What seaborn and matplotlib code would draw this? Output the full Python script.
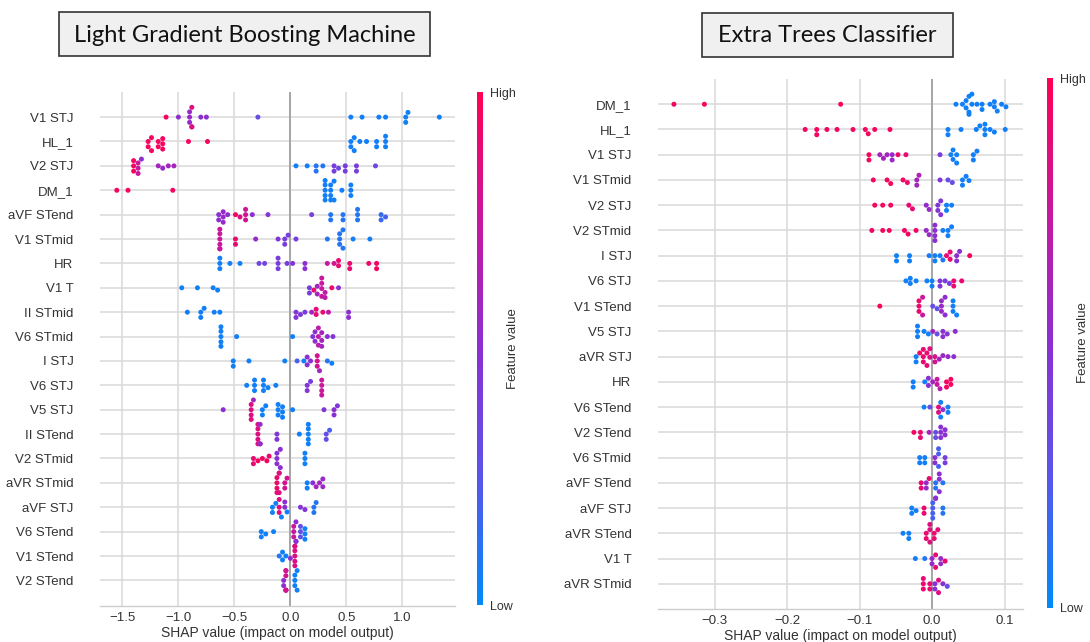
import warnings
warnings.filterwarnings("ignore")
import matplotlib
matplotlib.use("Agg")
import matplotlib.pyplot as plt
import numpy as np
import pandas as pd
import seaborn as sns
from matplotlib.colors import LinearSegmentedColormap, Normalize
from matplotlib.cm import ScalarMappable
from matplotlib.patches import Rectangle

# ---------------- data: (shap value, number of stacked points, feature value) ----------------
lg_title = "Light Gradient Boosting Machine"
et_title = "Extra Trees Classifier"

lg_features = ["V1 STJ", "HL_1", "V2 STJ", "DM_1", "aVF STend", "V1 STmid", "HR", "V1 T",
               "II STmid", "V6 STmid", "I STJ", "V6 STJ", "V5 STJ", "II STend", "V2 STmid",
               "aVR STmid", "aVF STJ", "V6 STend", "V1 STend", "V2 STend"]

lg_v1_stj = [(-1.11, 1, .95), (-1.00, 1, .5), (-0.90, 3, .55), (-0.88, 3, .85), (-0.80, 1, .5),
             (-0.75, 1, .5), (-0.29, 1, .3), (0.54, 1, .05), (0.64, 1, .05), (0.79, 1, .05),
             (0.85, 1, .05), (1.03, 2, .05), (1.05, 1, .05), (1.33, 1, .05)]
lg_hl_1 = [(-1.27, 2, .95), (-1.24, 2, .95), (-1.18, 2, .95), (-1.14, 3, .95), (-0.91, 1, .95),
           (-0.74, 1, .95), (0.54, 2, .05), (0.57, 2, .05), (0.62, 1, .05), (0.68, 1, .05),
           (0.77, 2, .05), (0.85, 3, .05)]
lg_v2_stj = [(-1.40, 3, .95), (-1.36, 3, .75), (-1.33, 1, .5), (-1.18, 1, .6), (-1.14, 1, .55),
             (-1.09, 1, .6), (-1.04, 1, .6), (0.05, 1, .05), (0.15, 1, .05), (0.23, 2, .1),
             (0.29, 1, .1), (0.39, 2, .4), (0.43, 1, .35), (0.49, 2, .4), (0.59, 2, .4), (0.76, 1, .35)]
lg_dm_1 = [(-1.55, 1, .95), (-1.45, 1, .95), (-1.05, 1, .95), (0.31, 5, .05), (0.36, 4, .05),
           (0.39, 2, .05), (0.46, 1, .05), (0.54, 3, .05)]
lg_avf_stend = [(-0.64, 2, .5), (-0.60, 3, .55), (-0.56, 1, .5), (-0.49, 1, .95), (-0.45, 1, .85),
                (-0.40, 3, .8), (-0.34, 1, .5), (-0.20, 1, .45), (0.19, 1, .4), (0.36, 2, .1),
                (0.47, 2, .1), (0.60, 3, .1), (0.81, 2, .15), (0.85, 1, .2)]
lg_v1_stmid = [(-0.63, 6, .75), (-0.49, 2, .9), (-0.31, 1, .55), (-0.11, 1, .45), (-0.05, 2, .4),
               (-0.02, 1, .4), (0.05, 1, .4), (0.33, 1, .1), (0.44, 3, .1), (0.47, 2, .1),
               (0.56, 1, .05), (0.71, 1, .05)]
lg_hr = [(-0.63, 3, .05), (-0.54, 1, .05), (-0.45, 1, .05), (-0.28, 1, .35), (-0.23, 1, .35),
         (-0.11, 3, .4), (-0.03, 1, .4), (0.02, 1, .45), (0.13, 2, .5), (0.33, 1, .75),
         (0.39, 1, .8), (0.43, 2, .9), (0.53, 2, .9), (0.70, 1, .9), (0.77, 2, .95)]
lg_v1_t = [(-0.97, 1, .05), (-0.83, 1, .05), (-0.69, 1, .05), (-0.65, 1, .05), (0.17, 2, .4),
           (0.21, 1, .9), (0.24, 2, .6), (0.28, 4, .75), (0.31, 2, .7), (0.37, 1, .9), (0.43, 1, .5)]
lg_ii_stmid = [(-0.92, 1, .05), (-0.80, 2, .05), (-0.77, 1, .05), (-0.68, 1, .05), (-0.63, 1, .05),
               (0.05, 2, .45), (0.09, 1, .45), (0.13, 1, .4), (0.19, 1, .6), (0.23, 2, .9),
               (0.29, 1, .9), (0.34, 1, .7), (0.52, 2, .5)]
lg_v6_stmid = [(-0.62, 5, .05), (-0.48, 1, .05), (0.02, 1, .05), (0.20, 1, .45), (0.22, 2, .5),
               (0.25, 3, .7), (0.28, 3, .6), (0.33, 1, .5), (0.38, 1, .45)]
lg_i_stj = [(-0.51, 2, .05), (-0.37, 1, .05), (-0.05, 1, .05), (0.06, 1, .2), (0.12, 1, .05),
            (0.15, 2, .5), (0.18, 1, .5), (0.24, 3, .8), (0.26, 1, .6), (0.33, 1, .1), (0.37, 1, .05)]
lg_v6_stj = [(-0.39, 1, .05), (-0.32, 3, .05), (-0.24, 3, .05), (-0.20, 1, .05), (-0.13, 1, .05),
             (0.15, 2, .45), (0.18, 1, .4), (0.28, 4, .75)]
lg_v5_stj = [(-0.60, 1, .5), (-0.35, 4, .85), (-0.33, 1, .6), (-0.25, 2, .05), (-0.22, 1, .05),
             (-0.11, 3, .05), (-0.07, 3, .05), (0.02, 1, .05), (0.30, 1, .45), (0.39, 2, .5), (0.42, 1, .45)]
lg_ii_stend = [(-0.29, 5, .85), (-0.27, 3, .55), (-0.12, 2, .45), (0.08, 1, .05), (0.16, 5, .05),
               (0.32, 2, .3), (0.35, 1, .2)]
lg_v2_stmid = [(-0.33, 2, .9), (-0.29, 1, .95), (-0.25, 1, .95), (-0.21, 1, .95), (-0.19, 1, .9),
               (-0.12, 3, .5), (-0.09, 2, .5), (0.13, 3, .05)]
lg_avr_stmid = [(-0.12, 4, .9), (-0.10, 3, .85), (-0.05, 2, .8), (-0.03, 1, .8), (0.15, 2, .05),
                (0.20, 1, .5), (0.23, 1, .6), (0.26, 1, .6), (0.29, 2, .55)]
lg_avf_stj = [(-0.16, 2, .05), (-0.13, 1, .05), (-0.10, 3, .85), (-0.08, 1, .05), (-0.05, 2, .5),
              (-0.03, 1, .05), (0.09, 1, .45), (0.13, 1, .45), (0.21, 2, .1), (0.23, 1, .1)]
lg_v6_stend = [(-0.26, 2, .05), (-0.22, 1, .05), (-0.15, 1, .05), (0.03, 3, .75), (0.05, 3, .5),
               (0.09, 3, .3), (0.13, 3, .05)]
lg_v1_stend = [(-0.10, 1, .1), (-0.07, 2, .05), (-0.04, 1, .05), (0.00, 1, .5), (0.04, 6, .85)]
lg_v2_stend = [(-0.06, 2, .5), (-0.04, 6, .8), (0.04, 3, .05), (0.06, 2, .05)]

lg_rows = [lg_v1_stj, lg_hl_1, lg_v2_stj, lg_dm_1, lg_avf_stend, lg_v1_stmid, lg_hr, lg_v1_t,
           lg_ii_stmid, lg_v6_stmid, lg_i_stj, lg_v6_stj, lg_v5_stj, lg_ii_stend, lg_v2_stmid,
           lg_avr_stmid, lg_avf_stj, lg_v6_stend, lg_v1_stend, lg_v2_stend]
lg_xticks = [-1.5, -1.0, -0.5, 0.0, 0.5, 1.0]

et_features = ["DM_1", "HL_1", "V1 STJ", "V1 STmid", "V2 STJ", "V2 STmid", "I STJ", "V6 STJ",
               "V1 STend", "V5 STJ", "aVR STJ", "HR", "V6 STend", "V2 STend", "V6 STmid",
               "aVF STend", "aVF STJ", "aVR STend", "V1 T", "aVR STmid"]

et_dm_1 = [(-0.356, 1, .95), (-0.314, 1, .95), (-0.126, 1, .95), (0.033, 1, .05), (0.042, 1, .05),
           (0.047, 2, .05), (0.051, 3, .05), (0.055, 2, .05), (0.062, 1, .05), (0.069, 2, .05),
           (0.080, 1, .05), (0.086, 2, .05), (0.090, 1, .05), (0.096, 1, .05), (0.102, 1, .05)]
et_hl_1 = [(-0.175, 1, .95), (-0.159, 2, .95), (-0.145, 1, .95), (-0.131, 1, .95), (-0.109, 1, .95),
           (-0.092, 1, .95), (-0.088, 1, .95), (-0.079, 1, .95), (-0.058, 1, .95), (0.022, 2, .05),
           (0.040, 1, .05), (0.061, 1, .05), (0.066, 1, .05), (0.073, 3, .05), (0.080, 1, .05),
           (0.086, 1, .05), (0.101, 1, .05)]
et_v1_stj = [(-0.087, 2, .95), (-0.072, 1, .6), (-0.067, 1, .6), (-0.062, 1, .6), (-0.055, 2, .55),
             (-0.047, 1, .9), (-0.036, 1, .9), (0.011, 1, .4), (0.026, 1, .05), (0.029, 2, .05),
             (0.034, 2, .05), (0.057, 2, .05), (0.062, 1, .05)]
et_v1_stmid = [(-0.081, 1, .95), (-0.062, 1, .95), (-0.057, 1, .95), (-0.040, 1, .95), (-0.034, 1, .9),
               (-0.021, 2, .6), (-0.018, 1, .65), (0.011, 1, .45), (0.022, 1, .3), (0.028, 1, .3),
               (0.042, 2, .05), (0.047, 1, .05), (0.051, 1, .05)]
et_v2_stj = [(-0.079, 1, .95), (-0.068, 1, .95), (-0.057, 1, .95), (-0.032, 1, .9), (-0.027, 1, .9),
             (-0.008, 1, .55), (-0.004, 1, .55), (0.008, 2, .45), (0.012, 2, .45), (0.020, 2, .05),
             (0.027, 1, .05)]
et_v2_stmid = [(-0.083, 1, .95), (-0.068, 1, .95), (-0.059, 1, .95), (-0.038, 1, .95), (-0.033, 1, .95),
               (-0.022, 1, .95), (-0.008, 1, .55), (-0.004, 1, .55), (0.004, 4, .5), (0.015, 1, .05),
               (0.022, 2, .05), (0.027, 1, .05)]
et_i_stj = [(-0.049, 2, .05), (-0.031, 2, .05), (-0.004, 1, .05), (0.004, 2, .05), (0.011, 1, .05),
            (0.015, 1, .1), (0.020, 1, .9), (0.025, 2, .9), (0.034, 2, .5), (0.038, 1, .5), (0.052, 1, .95)]
et_v6_stj = [(-0.036, 1, .05), (-0.030, 2, .05), (-0.022, 1, .05), (-0.007, 1, .05), (0.000, 2, .05),
             (0.011, 2, .45), (0.018, 1, .4), (0.024, 1, .4), (0.030, 2, .9), (0.041, 1, .9)]
et_v1_stend = [(-0.072, 1, .95), (-0.018, 3, .9), (-0.013, 2, .75), (0.001, 1, .3), (0.007, 1, .3),
               (0.013, 3, .55), (0.018, 2, .5), (0.029, 3, .05), (0.034, 1, .05)]
et_v5_stj = [(-0.020, 3, .05), (-0.011, 1, .05), (-0.005, 1, .05), (0.001, 1, .6), (0.007, 1, .3),
             (0.015, 2, .5), (0.021, 1, .45), (0.032, 1, .5)]
et_avr_stj = [(-0.022, 2, .05), (-0.017, 1, .95), (-0.012, 3, .9), (-0.007, 2, .9), (-0.003, 2, .85),
              (0.004, 2, .8), (0.010, 1, .6), (0.015, 1, .55), (0.022, 1, .55), (0.030, 1, .5)]
et_hr = [(-0.026, 2, .05), (-0.010, 1, .05), (-0.005, 2, .5), (0.001, 1, .6), (0.007, 2, .75),
         (0.011, 1, .7), (0.020, 2, .95), (0.026, 2, .95)]
et_v6_stend = [(-0.011, 1, .05), (-0.003, 1, .3), (0.009, 2, .85), (0.012, 2, .05), (0.015, 1, .5),
               (0.022, 2, .05)]
et_v2_stend = [(-0.025, 1, .95), (-0.016, 2, .9), (-0.004, 1, .6), (0.005, 2, .3), (0.012, 3, .5),
               (0.018, 2, .5)]
et_v6_stmid = [(-0.017, 2, .05), (-0.010, 2, .05), (0.004, 2, .5), (0.009, 3, .2), (0.018, 2, .4)]
et_avf_stend = [(-0.015, 2, .9), (-0.008, 2, .55), (-0.004, 1, .9), (0.005, 2, .1), (0.010, 3, .5),
                (0.015, 1, .1)]
et_avf_stj = [(-0.028, 2, .05), (-0.022, 1, .05), (-0.011, 2, .9), (0.001, 4, .2), (0.005, 2, .5),
              (0.015, 2, .1)]
et_avr_stend = [(-0.040, 1, .05), (-0.032, 2, .05), (-0.008, 2, .9), (-0.003, 3, .85), (0.003, 2, .9),
                (0.008, 1, .9)]
et_v1_t = [(-0.023, 1, .05), (-0.010, 1, .1), (0.000, 2, .55), (0.005, 2, .9), (0.012, 2, .55),
           (0.018, 1, .9)]
et_avr_stmid = [(-0.012, 3, .9), (-0.003, 2, .9), (0.004, 2, .5), (0.009, 2, .85), (0.015, 1, .5),
                (0.021, 1, .3)]

et_rows = [et_dm_1, et_hl_1, et_v1_stj, et_v1_stmid, et_v2_stj, et_v2_stmid, et_i_stj, et_v6_stj,
           et_v1_stend, et_v5_stj, et_avr_stj, et_hr, et_v6_stend, et_v2_stend, et_v6_stmid,
           et_avf_stend, et_avf_stj, et_avr_stend, et_v1_t, et_avr_stmid]
et_xticks = [-0.3, -0.2, -0.1, 0.0, 0.1]

xlabel_text = "SHAP value (impact on model output)"
cbar_ticklabels = ["Low", "High"]
cbar_label = "Feature value"


def to_frame(features, rows):
    recs = []
    for f, row in zip(features, rows):
        for x, n, c in row:
            for _ in range(n):
                recs.append((f, x, c))
    return pd.DataFrame(recs, columns=["feature", "shap", "fv"])


# ---------------- style ----------------
sns.set_theme(style="whitegrid")
plt.rcParams['font.family'] = ['Liberation Sans', 'DejaVu Sans']
plt.rcParams['axes.unicode_minus'] = True

cmap = LinearSegmentedColormap.from_list(
    "shap_red_blue", ["#008afb", "#5a55ea", "#8c2fd2", "#c8179f", "#ff0052"])

W, H = 1090, 642
fig = plt.figure(figsize=(W / 100, H / 100), dpi=100)
fig.patch.set_facecolor("white")


def fx(px):
    return px / W


def fy(py):
    return 1 - py / H


def panel(ax_box, cb_box, label_x, features, rows, xlim, ylim, xticks):
    ax = fig.add_axes(ax_box)
    df = to_frame(features, rows)
    sns.swarmplot(data=df, x="shap", y="feature", order=features, hue="fv",
                  palette=cmap, hue_norm=(0, 1), size=3.6, linewidth=0,
                  legend=False, orient="h", ax=ax, zorder=3)
    ax.set_xlim(*xlim)
    ax.set_ylim(*ylim)
    ax.set_xticks(xticks)
    ax.set_xticklabels([f"{t:.1f}".replace("-", "\u2212") for t in xticks])
    ax.set_axisbelow(True)
    ax.grid(True, color="#d9d9d9", lw=1.1)
    ax.axvline(0, color="#a6a6a6", lw=1.4, zorder=1)
    for s in ["left", "top", "right"]:
        ax.spines[s].set_visible(False)
    ax.spines["bottom"].set_color("#cccccc")
    ax.spines["bottom"].set_linewidth(1.0)
    ax.tick_params(axis="y", length=0, pad=19, labelsize=9.5, labelcolor="#333333")
    ax.tick_params(axis="x", length=0, pad=4, labelsize=9.5, labelcolor="#333333")
    ax.set_ylabel("")
    ax.set_xlabel(xlabel_text, fontsize=10, color="#333333", labelpad=2)

    cax = fig.add_axes(cb_box)
    sm = ScalarMappable(norm=Normalize(0, 1), cmap=cmap)
    cb = fig.colorbar(sm, cax=cax, ticks=[0, 1])
    cb.set_ticklabels(cbar_ticklabels)
    cb.outline.set_visible(False)
    cb.ax.tick_params(length=0, labelsize=9, labelcolor="#333333", pad=5)
    ymid = cb_box[1] + cb_box[3] / 2
    fig.text(label_x, ymid, cbar_label, rotation=90, ha="center", va="center",
             fontsize=9.5, color="#333333")
    return ax


panel([fx(100), fy(606), fx(455) - fx(100), fy(92) - fy(606)],
      [fx(477), fy(605), fx(483) - fx(477), fy(92) - fy(605)], fx(513),
      lg_features, lg_rows, (-1.70, 1.47), (20.05, -1.03), lg_xticks)
panel([fx(658), fy(609), fx(1023) - fx(658), fy(79) - fy(609)],
      [fx(1047), fy(608), fx(1053) - fx(1047), fy(78) - fy(608)], fx(1083),
      et_features, et_rows, (-0.378, 0.1255), (20.0, -1.0), et_xticks)

# title boxes
for (x0, y0, x1, y1), title in [((59, 12, 430, 56), lg_title), ((702, 13, 953, 57), et_title)]:
    fig.patches.append(Rectangle((fx(x0), fy(y1)), fx(x1) - fx(x0), fy(y0) - fy(y1),
                                 transform=fig.transFigure, facecolor="#f0f0f0",
                                 edgecolor="#333333", linewidth=1.2, zorder=5))
    fig.text(fx((x0 + x1) / 2), fy((y0 + y1) / 2 + 1), title, ha="center", va="center",
             fontsize=17, family=["Lato", "DejaVu Sans"], color="#111111", zorder=6)

fig.savefig("out.png", dpi=100, facecolor="white")
